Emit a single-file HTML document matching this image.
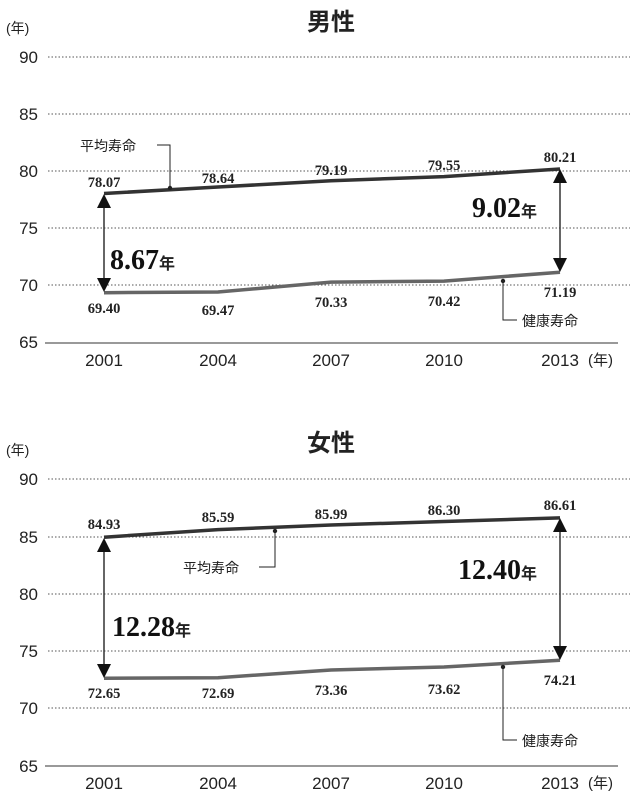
<!DOCTYPE html>
<html><head><meta charset="utf-8"><style>
html,body{margin:0;padding:0;background:#fff}
svg{display:block}
.ax{font-family:"Liberation Sans","Noto Sans CJK JP",sans-serif;font-size:17px;fill:#222}
.v{font-family:"Liberation Serif",serif;font-weight:bold;font-size:14.5px;fill:#222;text-anchor:middle}
.big{font-family:"Liberation Serif",serif;font-weight:bold;font-size:28px;fill:#111}
.jp{font-family:"Liberation Sans","Noto Sans CJK JP",sans-serif;fill:#222}
.g{stroke:#555;stroke-width:1;stroke-dasharray:1.5 2}
</style></head><body>
<svg width="640" height="801" viewBox="0 0 640 801">
<!-- TOP -->
<text x="331" y="30" class="jp" font-size="24" font-weight="bold" text-anchor="middle">男性</text>
<text x="6" y="33" class="jp" font-size="14">(年)</text>
<g class="ax" text-anchor="end">
<text x="38" y="63">90</text><text x="38" y="120">85</text><text x="38" y="177">80</text><text x="38" y="234">75</text><text x="38" y="291">70</text><text x="38" y="348">65</text>
</g>
<line class="g" x1="48" y1="57" x2="630" y2="57"/><line class="g" x1="48" y1="114" x2="630" y2="114"/><line class="g" x1="48" y1="171" x2="630" y2="171"/><line class="g" x1="48" y1="228" x2="630" y2="228"/><line class="g" x1="48" y1="285" x2="630" y2="285"/>
<line x1="45" y1="343" x2="618" y2="343" stroke="#333" stroke-width="1"/>
<g class="ax" text-anchor="middle"><text x="104" y="366">2001</text><text x="218" y="366">2004</text><text x="331" y="366">2007</text><text x="444" y="366">2010</text><text x="560" y="366">2013</text></g>
<text x="588" y="365" class="jp" font-size="15">(年)</text>
<polyline points="104,193.5 218,187 331,180.7 444,176.6 560,169" fill="none" stroke="#333" stroke-width="3.5"/>
<polyline points="104,292.7 218,292 331,282.1 444,281.1 560,272.2" fill="none" stroke="#666" stroke-width="3.5"/>
<line x1="104" y1="200" x2="104" y2="286" stroke="#333" stroke-width="1.5"/>
<path d="M104,194 L97,208 L111,208Z M104,292 L97,278 L111,278Z" fill="#111"/>
<line x1="560" y1="175" x2="560" y2="266" stroke="#333" stroke-width="1.5"/>
<path d="M560,169 L553,183 L567,183Z M560,272 L553,258 L567,258Z" fill="#111"/>
<text x="110" y="269" class="big">8.67<tspan class="jp" font-size="16" font-weight="bold">年</tspan></text>
<text x="472" y="217" class="big">9.02<tspan class="jp" font-size="16" font-weight="bold">年</tspan></text>
<g class="v"><text x="104" y="187">78.07</text><text x="218" y="183">78.64</text><text x="331" y="175">79.19</text><text x="444" y="170">79.55</text><text x="560" y="162">80.21</text>
<text x="104" y="313">69.40</text><text x="218" y="315">69.47</text><text x="331" y="307">70.33</text><text x="444" y="306">70.42</text><text x="560" y="297">71.19</text></g>
<text x="80" y="151" class="jp" font-size="14">平均寿命</text>
<polyline points="157,145 170,145 170,188" fill="none" stroke="#222" stroke-width="1"/><circle cx="170" cy="188" r="2.2" fill="#222"/>
<polyline points="503,281 503,320 517,320" fill="none" stroke="#222" stroke-width="1"/><circle cx="503" cy="281" r="2.2" fill="#222"/>
<text x="522" y="326" class="jp" font-size="14">健康寿命</text>
<!-- BOTTOM -->
<text x="331" y="451" class="jp" font-size="24" font-weight="bold" text-anchor="middle">女性</text>
<text x="6" y="455" class="jp" font-size="14">(年)</text>
<g class="ax" text-anchor="end">
<text x="38" y="485">90</text><text x="38" y="543">85</text><text x="38" y="600">80</text><text x="38" y="657">75</text><text x="38" y="714">70</text><text x="38" y="772">65</text>
</g>
<line class="g" x1="48" y1="479" x2="630" y2="479"/><line class="g" x1="48" y1="537" x2="630" y2="537"/><line class="g" x1="48" y1="594" x2="630" y2="594"/><line class="g" x1="48" y1="651" x2="630" y2="651"/><line class="g" x1="48" y1="708" x2="630" y2="708"/>
<line x1="45" y1="766" x2="618" y2="766" stroke="#333" stroke-width="1"/>
<g class="ax" text-anchor="middle"><text x="104" y="789">2001</text><text x="218" y="789">2004</text><text x="331" y="789">2007</text><text x="444" y="789">2010</text><text x="560" y="789">2013</text></g>
<text x="588" y="788" class="jp" font-size="15">(年)</text>
<polyline points="104,537.2 218,529.6 331,525 444,521.5 560,517.9" fill="none" stroke="#333" stroke-width="3.5"/>
<polyline points="104,678.2 218,677.7 331,670 444,667 560,660.3" fill="none" stroke="#666" stroke-width="3.5"/>
<line x1="104" y1="544" x2="104" y2="672" stroke="#333" stroke-width="1.5"/>
<path d="M104,538 L97,552 L111,552Z M104,678 L97,664 L111,664Z" fill="#111"/>
<line x1="560" y1="524" x2="560" y2="654" stroke="#333" stroke-width="1.5"/>
<path d="M560,518 L553,532 L567,532Z M560,660 L553,646 L567,646Z" fill="#111"/>
<text x="112" y="636" class="big">12.28<tspan class="jp" font-size="16" font-weight="bold">年</tspan></text>
<text x="458" y="579" class="big">12.40<tspan class="jp" font-size="16" font-weight="bold">年</tspan></text>
<g class="v"><text x="104" y="529">84.93</text><text x="218" y="522">85.59</text><text x="331" y="519">85.99</text><text x="444" y="515">86.30</text><text x="560" y="510">86.61</text>
<text x="104" y="698">72.65</text><text x="218" y="698">72.69</text><text x="331" y="695">73.36</text><text x="444" y="694">73.62</text><text x="560" y="685">74.21</text></g>
<text x="183" y="573" class="jp" font-size="14">平均寿命</text>
<polyline points="259,567 275,567 275,531" fill="none" stroke="#222" stroke-width="1"/><circle cx="275" cy="531" r="2.2" fill="#222"/>
<polyline points="503,667 503,740 517,740" fill="none" stroke="#222" stroke-width="1"/><circle cx="503" cy="667" r="2.2" fill="#222"/>
<text x="522" y="746" class="jp" font-size="14">健康寿命</text>
</svg>
</body></html>
